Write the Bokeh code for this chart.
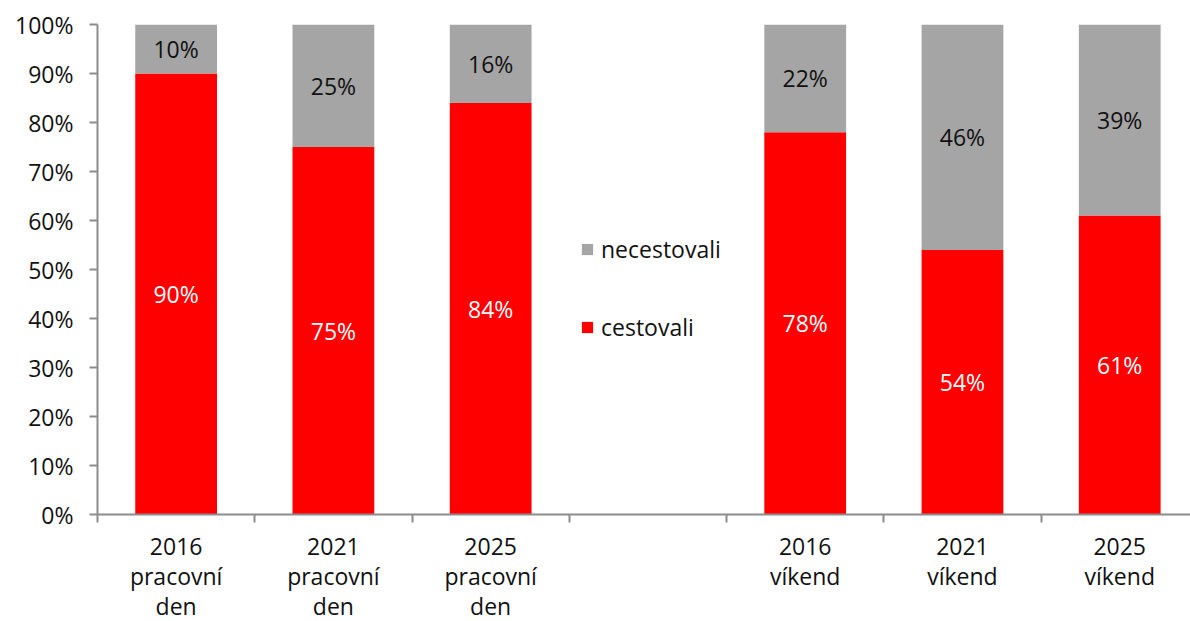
from bokeh.plotting import figure
from bokeh.models import (Range1d, FixedTicker, PrintfTickFormatter, ColumnDataSource,
                          LabelSet, Legend, LegendItem)
from bokeh.core.properties import value
from bokeh.embed import file_html
from bokeh.resources import INLINE

categories = ["2016\npracovní\nden", "2021\npracovní\nden", "2025\npracovní\nden", "",
              "2016\nvíkend", "2021\nvíkend", "2025\nvíkend"]
cestovali = [90, 75, 84, None, 78, 54, 61]
necestovali = [10, 25, 16, None, 22, 46, 39]
y_ticks = [0, 10, 20, 30, 40, 50, 60, 70, 80, 90, 100]

RED = "#FF0000"
GRAY = "#A5A5A5"
AXIS = "#8C8C8C"
FONT = "Open Sans"
FS = "23px"

xs, red, gray, red_mid, gray_mid, red_lbl, gray_lbl = [], [], [], [], [], [], []
for i, (c, r, g) in enumerate(zip(categories, cestovali, necestovali)):
    if r is None:
        continue
    xs.append(i + 0.5)
    red.append(r)
    gray.append(g)
    red_mid.append(r / 2)
    gray_mid.append(r + g / 2)
    red_lbl.append(f"{r}%")
    gray_lbl.append(f"{g}%")

src = ColumnDataSource(dict(x=xs, cestovali=red, necestovali=gray, red_mid=red_mid,
                            gray_mid=gray_mid, red_lbl=red_lbl, gray_lbl=gray_lbl))

p = figure(frame_width=1093, frame_height=490, min_border_left=97, min_border_right=0,
           min_border_top=24, min_border_bottom=107, output_backend="svg",
           toolbar_location=None, x_range=Range1d(0, 6.95), y_range=Range1d(0, 100))
p.outline_line_color = None
p.xgrid.grid_line_color = None
p.ygrid.grid_line_color = None

rs = p.vbar_stack(["cestovali", "necestovali"], x="x", width=0.52, color=[RED, GRAY],
                  line_color=None, source=src)

p.add_layout(LabelSet(x="x", y="red_mid", text="red_lbl", source=src, text_color="white",
                      text_align="center", text_baseline="middle", text_font=value(FONT),
                      text_font_size=value(FS)))
p.add_layout(LabelSet(x="x", y="gray_mid", text="gray_lbl", source=src, text_color="#111111",
                      text_align="center", text_baseline="middle", text_font=value(FONT),
                      text_font_size=value(FS)))

legend = Legend(items=[LegendItem(label="necestovali", renderers=[rs[1]]),
                       LegendItem(label="cestovali", renderers=[rs[0]])],
                location=(483, 171), glyph_width=14, glyph_height=14, label_height=32,
                spacing=46, padding=0, margin=0, border_line_color=None,
                background_fill_alpha=0, label_standoff=7, label_text_font=FONT,
                label_text_font_size=FS, label_text_color="#111111")
p.add_layout(legend)

# x axis
centers = [i + 0.5 for i, c in enumerate(categories) if c]
p.xaxis.ticker = FixedTicker(ticks=centers, minor_ticks=list(range(len(categories))))
p.xaxis.major_label_overrides = {i + 0.5: c for i, c in enumerate(categories) if c}
p.xaxis.major_tick_line_color = None
p.xaxis.minor_tick_in = 0
p.xaxis.minor_tick_out = 8
p.xaxis.minor_tick_line_color = AXIS
p.xaxis.minor_tick_line_width = 2
p.xaxis.axis_line_color = AXIS
p.xaxis.axis_line_width = 2
p.xaxis.major_label_text_font = FONT
p.xaxis.major_label_text_font_size = FS
p.xaxis.major_label_text_color = "#111111"
p.xaxis.major_label_text_line_height = 0.94
p.xaxis.major_label_standoff = 7

# y axis
p.yaxis.ticker = FixedTicker(ticks=y_ticks)
p.yaxis.formatter = PrintfTickFormatter(format="%d%%")
p.yaxis.major_tick_in = 0
p.yaxis.major_tick_out = 8
p.yaxis.minor_tick_line_color = None
p.yaxis.major_tick_line_color = AXIS
p.yaxis.major_tick_line_width = 2
p.yaxis.axis_line_color = AXIS
p.yaxis.axis_line_width = 2
p.yaxis.major_label_text_font = FONT
p.yaxis.major_label_text_font_size = FS
p.yaxis.major_label_text_color = "#111111"
p.yaxis.major_label_standoff = 16

open("out.html", "w").write(file_html(p, INLINE))
